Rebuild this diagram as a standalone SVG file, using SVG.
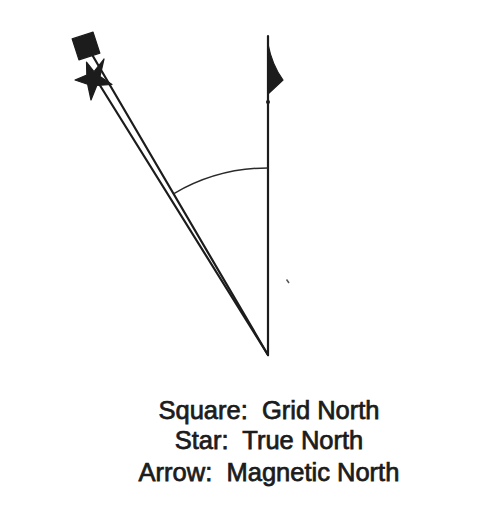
<svg xmlns="http://www.w3.org/2000/svg" width="479" height="514" viewBox="0 0 479 514">
  <style>
    .ln { stroke: #1c1c1c; stroke-width: 2.2; fill: none; stroke-linecap: round; }
    .arc { stroke: #2a2a2a; stroke-width: 1.5; fill: none; }
    .sym { fill: #1c1c1c; stroke: #1c1c1c; stroke-width: 1.2; stroke-linejoin: round; }
    .lbl { font-family: "Liberation Sans", Arial, sans-serif; font-size: 25.5px; fill: #1c1c1c; stroke: #1c1c1c; stroke-width: 0.75; text-anchor: middle; }
  </style>
  <rect width="479" height="514" fill="#ffffff"/>
  <g id="connectors">
    <line class="ln" x1="268" y1="355" x2="96" y2="79"/>
    <line class="ln" x1="268" y1="355" x2="87" y2="46"/>
    <line class="ln" x1="268" y1="355" x2="268" y2="36"/>
    <path class="arc" d="M268,168 A186,186 0 0 0 173.9,193.6"/>
  </g>
  <g id="grid-north">
    <rect class="sym" x="75" y="35" width="22" height="22" transform="rotate(-18 86 46)"/>
  </g>
  <g id="true-north">
    <polygon class="sym" points="104,59 100,76.4 112,84.5 96.8,85.5 91,100 87.6,84.2 75,80 86.8,75 86.5,62 94,71.5"/>
  </g>
  <g id="magnetic-north">
    <path class="sym" d="M268,44 Q272,65 283,80 L268,94 Z"/>
    <circle cx="268" cy="102" r="2" fill="#1c1c1c"/>
  </g>
  <g id="speck">
    <line x1="286.5" y1="279.5" x2="289" y2="283" stroke="#555" stroke-width="1.5"/>
  </g>
  <g id="legend">
    <text class="lbl" x="269" y="419" xml:space="preserve">Square:  Grid North</text>
    <text class="lbl" x="269" y="449" xml:space="preserve">Star:  True North</text>
    <text class="lbl" x="269" y="481" xml:space="preserve">Arrow:  Magnetic North</text>
  </g>
</svg>
